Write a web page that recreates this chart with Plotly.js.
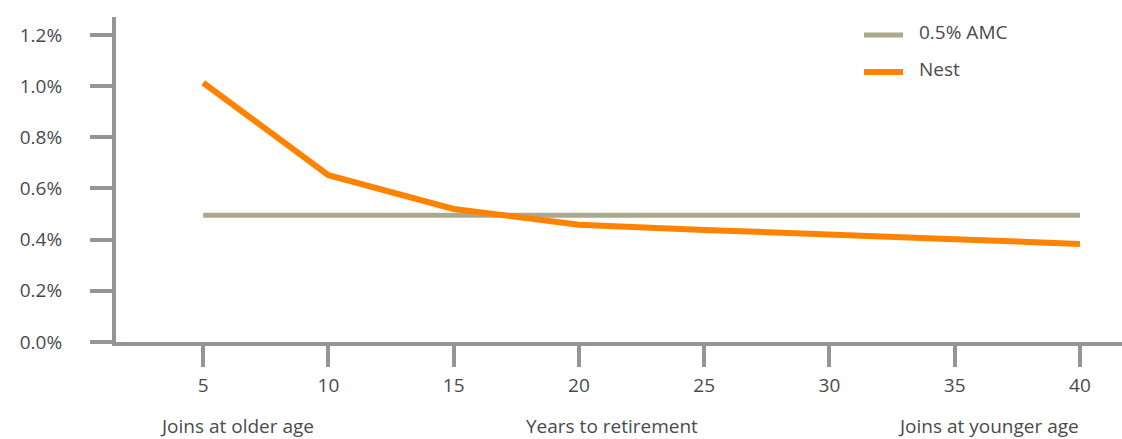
<!DOCTYPE html>
<html>
<head>
<meta charset="utf-8">
<script src="https://cdn.plot.ly/plotly-3.0.1.min.js"></script>
<style>html,body{margin:0;padding:0;background:#fff;}#chart{width:1122px;height:439px;}</style>
</head>
<body>
<div id="chart"></div>
<script>
// Data
const yearsToRetirement = [5, 10, 15, 20, 25, 30, 35, 40];
const amcValues = [0.495, 0.495, 0.495, 0.495, 0.495, 0.495, 0.495, 0.495];
const nestValues = [1.013, 0.652, 0.52, 0.458, 0.438, 0.422, 0.402, 0.383];
const seriesNames = ["0.5% AMC", "Nest"];
const yTickVals = [0, 0.2, 0.4, 0.6, 0.8, 1.0, 1.2];
const yTickText = ["0.0%", "0.2%", "0.4%", "0.6%", "0.8%", "1.0%", "1.2%"];
const xTickVals = [5, 10, 15, 20, 25, 30, 35, 40];
const bottomLabels = ["Joins at older age", "Years to retirement", "Joins at younger age"];

const AMC_COLOR = "#aaa98e";
const NEST_COLOR = "#ff8300";
const AXIS_COLOR = "#939598";
const TEXT_COLOR = "#4a4a4c";
const FONT = "Open Sans, Noto Sans, sans-serif";
const FS = 19;

const traces = [
  {x: yearsToRetirement, y: amcValues, name: seriesNames[0], mode: "lines",
   line: {color: AMC_COLOR, width: 5}, hoverinfo: "skip"},
  {x: yearsToRetirement, y: nestValues, name: seriesNames[1], mode: "lines",
   line: {color: NEST_COLOR, width: 6}, hoverinfo: "skip"}
];

const W = 1122, ML = 116, MR = 0;
const plotW = W - ML - MR;
function px(p) { return (p - ML) / plotW; }

const layout = {
  width: 1122, height: 439,
  margin: {l: ML, r: MR, t: 17, b: 97},
  paper_bgcolor: "#fff", plot_bgcolor: "#fff",
  showlegend: false,
  font: {family: FONT, size: FS, color: TEXT_COLOR},
  xaxis: {
    range: [1.52, 41.68], showgrid: false, zeroline: false,
    showline: true, linecolor: AXIS_COLOR, linewidth: 4,
    ticks: "outside", ticklen: 21, tickwidth: 4, tickcolor: AXIS_COLOR,
    tickvals: xTickVals, ticklabelstandoff: 2,
    tickfont: {family: FONT, size: FS, color: TEXT_COLOR}
  },
  yaxis: {
    range: [0, 1.27], showgrid: false, zeroline: false,
    showline: true, linecolor: AXIS_COLOR, linewidth: 4,
    ticks: "outside", ticklen: 22, tickwidth: 4, tickcolor: AXIS_COLOR,
    tickvals: yTickVals, ticktext: yTickText, ticklabelstandoff: 24,
    tickfont: {family: FONT, size: FS, color: TEXT_COLOR}
  },
  shapes: [
    {type: "line", xref: "paper", yref: "paper", x0: px(864), x1: px(903),
     ysizemode: "pixel", yanchor: 1.0, y0: -18, y1: -18, line: {color: AMC_COLOR, width: 5}},
    {type: "line", xref: "paper", yref: "paper", x0: px(864), x1: px(903),
     ysizemode: "pixel", yanchor: 1.0, y0: -55, y1: -55, line: {color: NEST_COLOR, width: 6}}
  ],
  annotations: [
    {text: seriesNames[0], xref: "paper", yref: "paper", x: px(917), y: 1, xanchor: "left", yanchor: "middle",
     yshift: -15, showarrow: false, font: {family: FONT, size: FS, color: TEXT_COLOR}},
    {text: seriesNames[1], xref: "paper", yref: "paper", x: px(917), y: 1, xanchor: "left", yanchor: "middle",
     yshift: -52, showarrow: false, font: {family: FONT, size: FS, color: TEXT_COLOR}},
    {text: bottomLabels[0], xref: "paper", yref: "paper", x: px(237), y: 0, xanchor: "center", yanchor: "middle",
     yshift: -84, showarrow: false, font: {family: FONT, size: FS, color: TEXT_COLOR}},
    {text: bottomLabels[1], xref: "paper", yref: "paper", x: px(612), y: 0, xanchor: "center", yanchor: "middle",
     yshift: -84, showarrow: false, font: {family: FONT, size: FS, color: TEXT_COLOR}},
    {text: bottomLabels[2], xref: "paper", yref: "paper", x: px(1081), y: 0, xanchor: "right", yanchor: "middle",
     yshift: -84, showarrow: false, font: {family: FONT, size: FS, color: TEXT_COLOR}}
  ]
};

Plotly.newPlot("chart", traces, layout, {displayModeBar: false, staticPlot: true});
</script>
</body>
</html>
